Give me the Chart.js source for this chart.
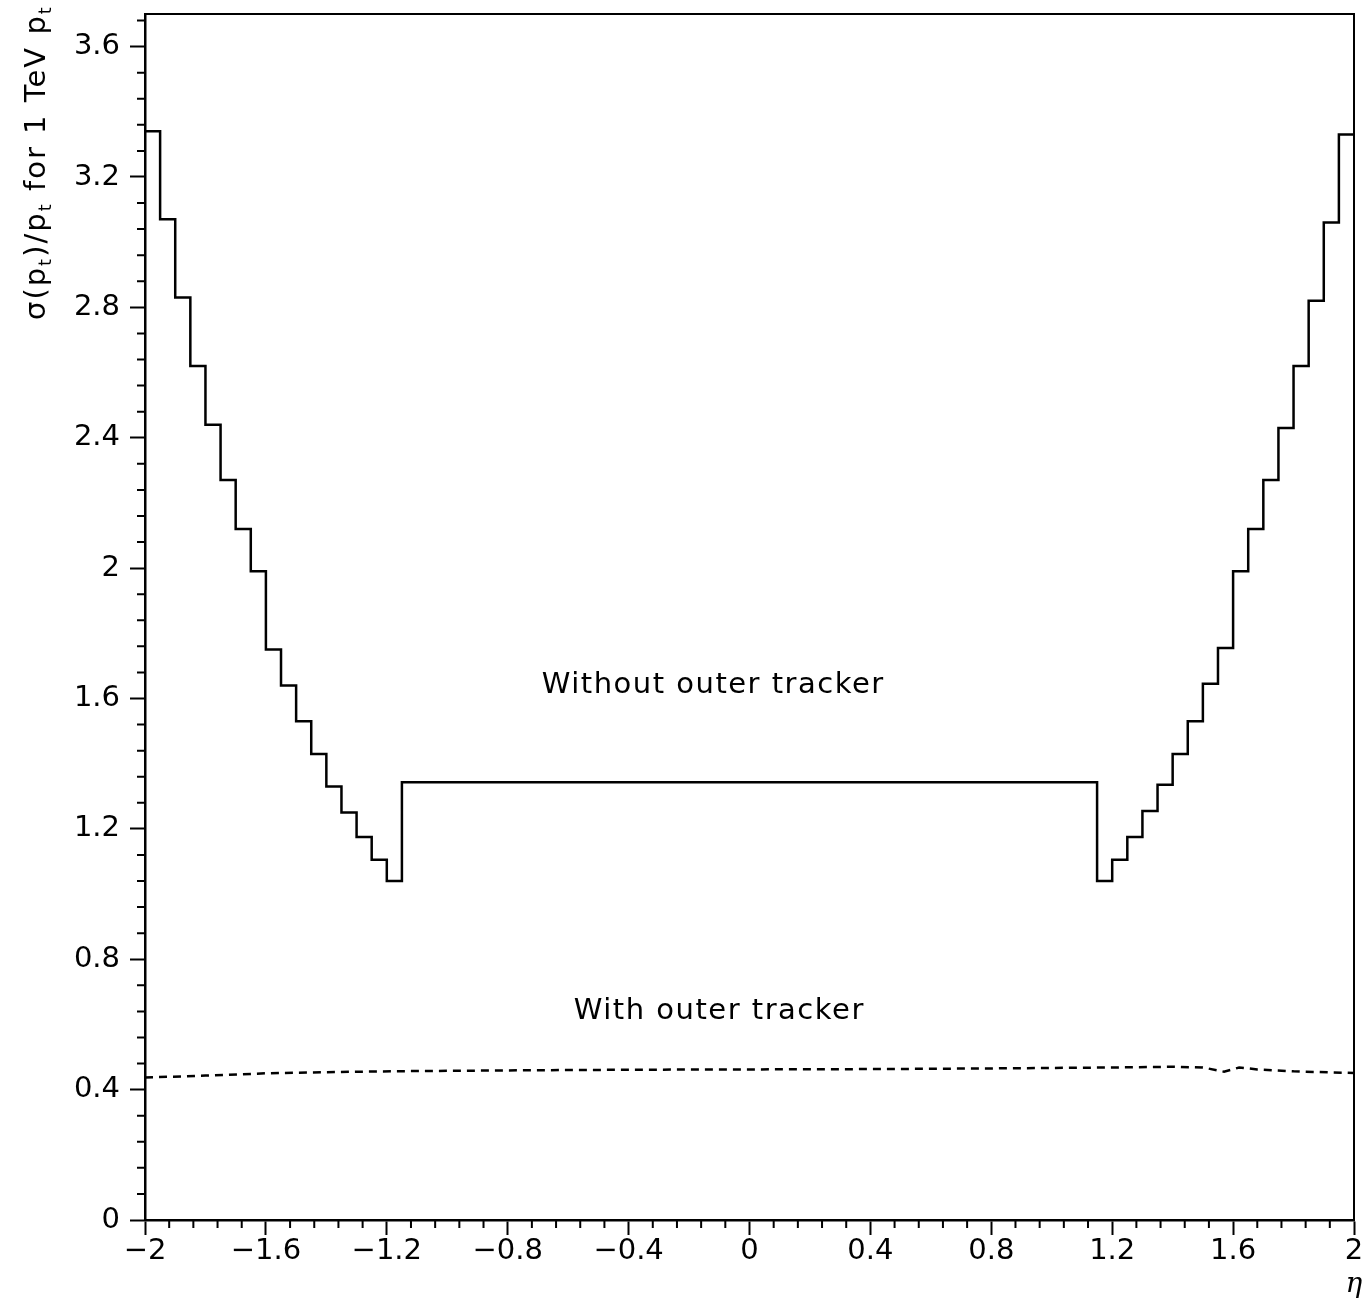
<!DOCTYPE html>
<html>
<head>
<meta charset="utf-8">
<script src="https://cdn.jsdelivr.net/npm/chart.js@4.4.1/dist/chart.umd.min.js"></script>
<style>
  html, body { margin: 0; padding: 0; background: #fff; }
  #wrap { width: 1370px; height: 1301px; position: relative; }
</style>
</head>
<body>
<div id="wrap"><canvas id="chart"></canvas></div>
<script>
// bin edges in eta for the histogram (flat central bin between -1.15 and 1.15)
const etaEdges = [-2, -1.95, -1.9, -1.85, -1.8, -1.75, -1.7, -1.65, -1.6, -1.55, -1.5,
  -1.45, -1.4, -1.35, -1.3, -1.25, -1.2, -1.15,
  1.15, 1.2, 1.25, 1.3, 1.35, 1.4, 1.45, 1.5, 1.55, 1.6, 1.65, 1.7, 1.75, 1.8, 1.85, 1.9, 1.95, 2];
// resolution without outer tracker, one value per bin
const withoutTracker = [3.34, 3.07, 2.83, 2.62, 2.44, 2.27, 2.12, 1.99, 1.75, 1.64, 1.53,
  1.43, 1.33, 1.25, 1.175, 1.105, 1.04,
  1.343,
  1.04, 1.105, 1.175, 1.255, 1.335, 1.43, 1.53, 1.645, 1.755, 1.99, 2.12, 2.27, 2.43, 2.62, 2.82, 3.06, 3.33];
// resolution with outer tracker (dashed curve)
const dashedEta = [-2, -1.8, -1.6, -1.5, -1.3, -1.1, -0.8, -0.4, 0, 0.4, 0.8, 1.2, 1.4, 1.5, 1.57, 1.62, 1.68, 1.8, 2];
const withTracker = [0.437, 0.443, 0.45, 0.452, 0.455, 0.457, 0.459, 0.461, 0.462, 0.463, 0.465,
  0.468, 0.47, 0.468, 0.455, 0.468, 0.462, 0.456, 0.451];

const labels = [
  {text: 'Without outer tracker', x: -0.12, y: 1.64},
  {text: 'With outer tracker', x: -0.1, y: 0.64},
];

const FONT = '"DejaVu Sans", "Liberation Sans", sans-serif';

const fmt = (v) => {
  const n = Number(v.toFixed(2));
  return n < 0 ? '\u2212' + String(-n) : String(n);
};

// last edge repeats the last bin value so the final bin gets its top
const histPoints = etaEdges.map((e, i) => ({
  x: e, y: withoutTracker[Math.min(i, withoutTracker.length - 1)]
}));
const dashPoints = dashedEta.map((e, i) => ({x: e, y: withTracker[i]}));

// frame, minor ticks, axis title and text labels
const decorations = {
  id: 'decorations',
  afterDraw(chart) {
    const {ctx, chartArea: a, scales: {x, y}} = chart;
    ctx.save();
    ctx.strokeStyle = '#000';
    ctx.lineWidth = 2;
    ctx.beginPath();
    ctx.moveTo(a.left, a.top); ctx.lineTo(a.right, a.top); ctx.lineTo(a.right, a.bottom);
    ctx.stroke();

    ctx.beginPath();
    for (let k = 0; k <= 50; k++) {
      if (k % 5 === 0) continue;
      const px = x.getPixelForValue(-2 + k * 0.08);
      ctx.moveTo(px, a.bottom); ctx.lineTo(px, a.bottom + 8);
    }
    for (let k = 0; k <= 46; k++) {
      if (k % 5 === 0) continue;
      const py = y.getPixelForValue(k * 0.08);
      ctx.moveTo(a.left - 8, py); ctx.lineTo(a.left, py);
    }
    ctx.stroke();

    ctx.fillStyle = '#000';
    ctx.letterSpacing = '1.5px';
    ctx.font = '29px ' + FONT;
    ctx.textAlign = 'center';
    ctx.textBaseline = 'middle';
    labels.forEach(l => ctx.fillText(l.text, x.getPixelForValue(l.x), y.getPixelForValue(l.y)));

    // eta label
    ctx.letterSpacing = '0px';
    ctx.font = 'italic 28px "DejaVu Serif", serif';
    ctx.fillText('\u03b7', x.getPixelForValue(2), a.bottom + 65);

    // y-axis title, rotated, with subscripts
    ctx.translate(45, 320);
    ctx.rotate(-Math.PI / 2);
    ctx.textAlign = 'left';
    ctx.textBaseline = 'alphabetic';
    ctx.letterSpacing = '2px';
    const parts = [['\u03c3(p', 0], ['t', 1], [')/p', 0], ['t', 1], [' for 1 TeV p', 0], ['t', 1]];
    let cx = 0;
    parts.forEach(([s, sub]) => {
      ctx.font = (sub ? '18px ' : '29px ') + FONT;
      ctx.fillText(s, cx, sub ? 6 : 0);
      cx += ctx.measureText(s).width;
    });
    ctx.restore();
  }
};

new Chart(document.getElementById('chart'), {
  type: 'line',
  data: {
    datasets: [{
      label: 'Without outer tracker',
      data: histPoints,
      stepped: 'before',
      borderColor: '#000',
      borderWidth: 2.5,
      pointRadius: 0,
      fill: false
    }, {
      label: 'With outer tracker',
      data: dashPoints,
      borderColor: '#000',
      borderWidth: 2.5,
      borderDash: [8, 6],
      pointRadius: 0,
      tension: 0,
      fill: false
    }]
  },
  options: {
    animation: false,
    responsive: true,
    maintainAspectRatio: false,
    layout: {padding: {top: 14, right: 16, left: 0, bottom: 0}},
    plugins: {legend: {display: false}, tooltip: {enabled: false}},
    scales: {
      x: {
        type: 'linear',
        min: -2, max: 2,
        afterFit: (s) => { s.height = 81; },
        border: {display: true, color: '#000', width: 2.5},
        grid: {drawOnChartArea: false, drawTicks: true, tickLength: 15, tickWidth: 2, tickColor: '#000'},
        ticks: {
          stepSize: 0.4,
          color: '#000',
          padding: 2,
          maxRotation: 0,
          font: {family: FONT, size: 29, lineHeight: 1},
          callback: fmt
        }
      },
      y: {
        min: 0, max: 3.7,
        afterFit: (s) => { s.width = 145; s.paddingTop = 0; s.paddingBottom = 0; },
        border: {display: true, color: '#000', width: 2.5},
        grid: {drawOnChartArea: false, drawTicks: true, tickLength: 15, tickWidth: 2, tickColor: '#000'},
        ticks: {
          stepSize: 0.4,
          includeBounds: false,
          color: '#000',
          padding: 10,
          font: {family: FONT, size: 29},
          callback: fmt
        }
      }
    }
  },
  plugins: [decorations]
});
</script>
</body>
</html>
